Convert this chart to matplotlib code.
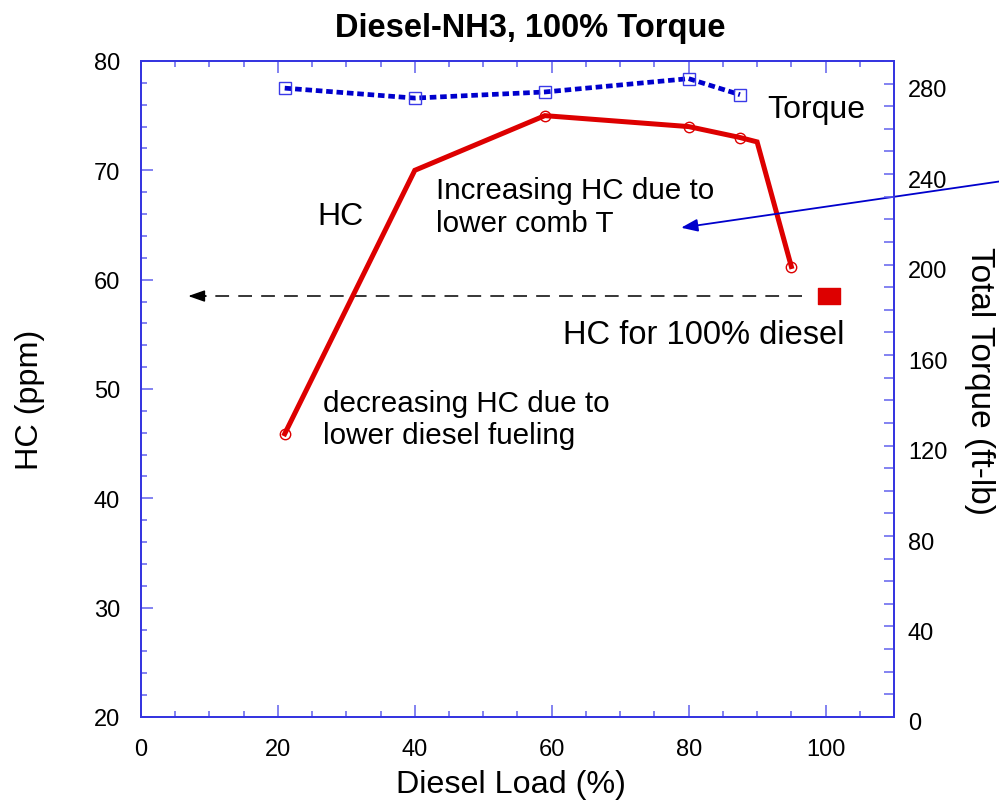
import matplotlib
matplotlib.use("Agg")
import matplotlib.pyplot as plt
from matplotlib.ticker import MultipleLocator
from matplotlib.path import Path
import matplotlib.transforms as mtransforms

plt.rcParams['font.family'] = ['Liberation Sans', 'DejaVu Sans']

# Diesel load (%) and measured HC (ppm)
hc_load = [21, 40, 59, 80, 87.5, 90, 95]
hc_ppm = [45.9, 70.0, 75.0, 74.0, 73.0, 72.6, 61.2]
hc_marked = [True, False, True, True, True, False, True]

# Total torque (ft-lb) at each diesel load
tq_load = [21, 40, 59, 80, 87.5]
tq_ftlb = [278.0, 273.6, 276.3, 282.2, 275.1]

# Pure diesel reference HC
ref_load = 100.5
ref_hc = 58.5

RED = '#dd0000'
BLUE = '#0000cc'
SPINE = '#3535e0'
TICK = '#6060ee'

fig = plt.figure(figsize=(9.99, 8.04), dpi=100)
ax = fig.add_axes([0.1411, 0.107, 0.7538, 0.8159])
ax2 = ax.twinx()

ax.set_xlim(0, 110)
ax.set_ylim(20, 80)
ax2.set_ylim(0, 290)

# HC line with circle markers on measured points
ax.plot(hc_load, hc_ppm, color=RED, lw=3.6, solid_joinstyle='miter', zorder=3)
ax.plot([x for x, m in zip(hc_load, hc_marked) if m],
        [y for y, m in zip(hc_ppm, hc_marked) if m],
        ls='none', marker='o', ms=7.5, mfc='none', mec=RED, mew=1.0, zorder=4)

# Torque on the right axis
ax2.plot(tq_load, tq_ftlb, color=BLUE, lw=3.4, ls=(0, (1.4, 0.8)),
         dash_capstyle='butt', zorder=3)
ax2.plot(tq_load, tq_ftlb, ls='none', marker='s', ms=8, mfc='none',
         mec='#3a3ae8', mew=1.0, zorder=4)

# Pure diesel reference point (wide rectangle)
rect = Path([(-1, -0.72), (1, -0.72), (1, 0.72), (-1, 0.72), (-1, -0.72)],
            [Path.MOVETO, Path.LINETO, Path.LINETO, Path.LINETO, Path.CLOSEPOLY])
ax.plot([ref_load], [ref_hc], ls='none', marker=rect, ms=16.5, color=RED,
        mec=RED, zorder=4)

# Dashed arrow pointing the reference level back to the left axis
ax.plot([96.6, 8.5], [ref_hc, ref_hc], color='black', lw=1.1,
        ls=(0, (9, 6)), zorder=2)
ax.annotate('', xy=(6.9, ref_hc), xytext=(9.5, ref_hc),
            arrowprops=dict(arrowstyle='-|>,head_length=1.0,head_width=0.35',
                            color='black', lw=1.1, shrinkA=0, shrinkB=0))

# Blue arrow coming from outside the plot
ax.annotate('', xy=(78.9, 64.75), xytext=(130, 69.4), annotation_clip=False,
            arrowprops=dict(arrowstyle='-|>,head_length=1.0,head_width=0.38',
                            color=BLUE, lw=1.3, shrinkA=0, shrinkB=0))

# Annotations (multi-line blocks anchored on their last baseline)
ax.text(91.5, 74.85, 'Torque', fontsize=23, ha='left', va='baseline')
ax.text(25.8, 65.05, 'HC', fontsize=23, ha='left', va='baseline')
ax.text(43.1, 64.45, 'Increasing HC due to\nlower comb T', fontsize=21.3,
        ha='left', va='baseline', linespacing=1.24)
ax.text(61.6, 54.16, 'HC for 100% diesel', fontsize=23.5, ha='left',
        va='baseline')
ax.text(26.6, 45.05, 'decreasing HC due to\nlower diesel fueling',
        fontsize=21.3, ha='left', va='baseline', linespacing=1.2)

# Axes styling
for a in (ax, ax2):
    for s in a.spines.values():
        s.set_color(SPINE)
        s.set_linewidth(1.3)

ax.xaxis.set_major_locator(MultipleLocator(20))
ax.xaxis.set_minor_locator(MultipleLocator(5))
ax.yaxis.set_major_locator(MultipleLocator(10))
ax.yaxis.set_minor_locator(MultipleLocator(2))
ax2.yaxis.set_major_locator(MultipleLocator(40))
ax2.yaxis.set_minor_locator(MultipleLocator(10))

ax.tick_params(axis='both', which='both', direction='in', color=TICK,
               labelsize=17, width=1.1)
ax.tick_params(axis='x', which='both', top=True, bottom=True)
ax.tick_params(axis='x', which='major', length=8.5, pad=15)
ax.tick_params(axis='x', which='minor', length=4.5)
ax.tick_params(axis='y', which='major', length=8.5, pad=15, right=False)
ax.tick_params(axis='y', which='minor', length=4.5, right=False)
ax2.tick_params(axis='y', which='both', direction='in', color=TICK,
                labelsize=17, width=1.1, length=7)
ax2.tick_params(axis='y', which='major', pad=10)

# Shift the right-hand labels slightly downward
off = mtransforms.ScaledTranslation(0, -4 / 100, fig.dpi_scale_trans)
for lbl in ax2.get_yticklabels():
    lbl.set_transform(lbl.get_transform() + off)

ax.set_xlabel('Diesel Load (%)', fontsize=23.3)
ax.xaxis.set_label_coords(0.491, -0.102)
ax.xaxis.label.set_va('center')
ax.set_ylabel('HC (ppm)', fontsize=23.3, va='center')
ax.yaxis.set_label_coords(-0.147, 0.485)
ax2.set_ylabel('Total Torque (ft-lb)', fontsize=24, rotation=270,
               va='center', ha='center', rotation_mode='anchor')
ax2.yaxis.set_label_coords(1.1135, 0.514)

ax.set_title('Diesel-NH3, 100% Torque', fontsize=23.5, fontweight='bold',
             x=0.517, pad=18)

fig.savefig('out.png', dpi=100)
